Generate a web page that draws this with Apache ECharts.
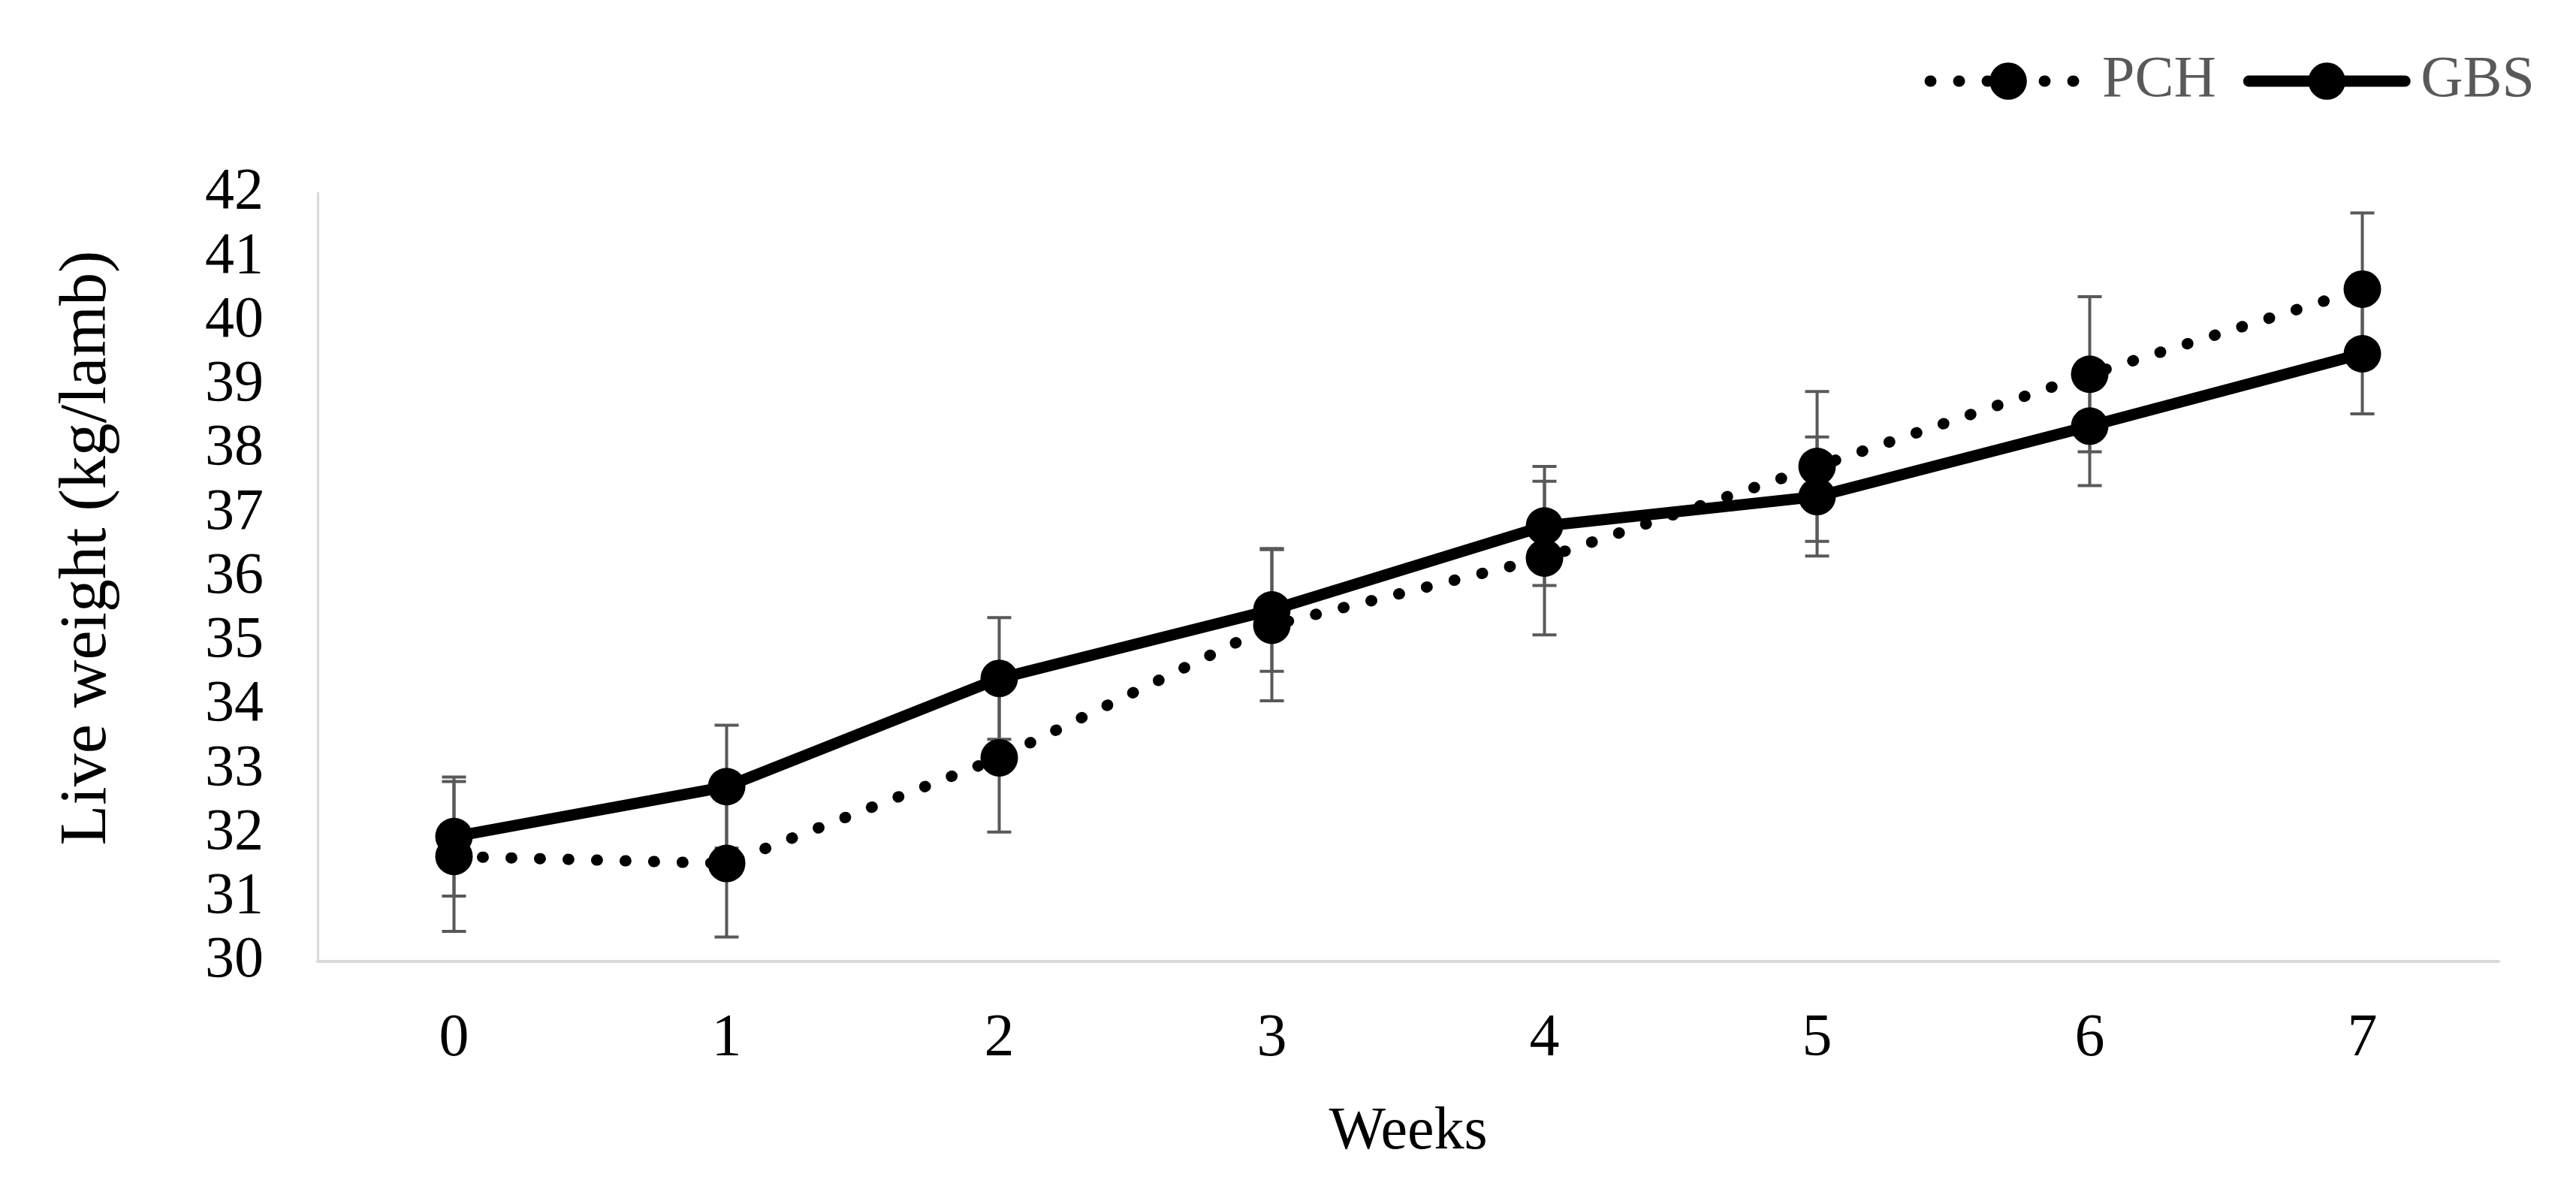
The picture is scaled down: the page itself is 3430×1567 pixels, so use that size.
<!DOCTYPE html>
<html><head><meta charset="utf-8">
<script src="https://cdn.jsdelivr.net/npm/echarts@6/dist/echarts.min.js"></script>
<style>html,body{margin:0;padding:0;background:#fff}#c{width:3430px;height:1567px}</style>
</head><body><div id="c"></div>
<script>
const weeks = ['0', '1', '2', '3', '4', '5', '6', '7'];
const pchMean = [31.64, 31.53, 33.18, 35.25, 36.30, 37.73, 39.17, 40.50];
const pchErr  = [1.17, 1.15, 1.16, 1.18, 1.20, 1.17, 1.21, 1.19];
const gbsMean = [31.95, 32.73, 34.42, 35.49, 36.80, 37.26, 38.36, 39.49];
const gbsErr  = [0.93, 0.96, 0.95, 0.96, 0.93, 0.93, 0.93, 0.94];
const yMin = 30, yMax = 42, yStep = 1;

const FONT = 'Liberation Serif';

function errData(mean, err) {
  return mean.map((m, i) => [i, m - err[i], m + err[i]]);
}
function errRender(params, api) {
  const x = api.value(0);
  const lo = api.coord([x, api.value(1)]);
  const hi = api.coord([x, api.value(2)]);
  const w = 16;
  const style = { stroke: '#595959', lineWidth: 4 };
  return { type: 'group', children: [
    { type: 'line', shape: { x1: lo[0], y1: lo[1], x2: hi[0], y2: hi[1] }, style },
    { type: 'line', shape: { x1: lo[0] - w, y1: lo[1], x2: lo[0] + w, y2: lo[1] }, style },
    { type: 'line', shape: { x1: hi[0] - w, y1: hi[1], x2: hi[0] + w, y2: hi[1] }, style }
  ]};
}

const chart = echarts.init(document.getElementById('c'));
chart.setOption({
  animation: false,
  backgroundColor: '#fff',
  textStyle: { fontFamily: FONT },
  legend: {
    data: ['PCH', 'GBS'],
    right: 50, top: 64,
    itemWidth: 208, itemHeight: 62, itemGap: 36,
    lineStyle: { width: 15 },
    textStyle: { fontFamily: FONT, fontSize: 78, color: '#595959', padding: [0, 0, 0, 16] }
  },
  grid: { left: 423, right: 103, top: 257, bottom: 287 },
  xAxis: {
    type: 'category', data: weeks, boundaryGap: true,
    name: 'Weeks', nameLocation: 'middle', nameGap: 188,
    nameTextStyle: { fontFamily: FONT, fontSize: 80, color: '#000' },
    axisLine: { lineStyle: { color: '#d9d9d9', width: 4 } },
    axisTick: { show: false },
    axisLabel: { fontFamily: FONT, fontSize: 80, color: '#000', margin: 64 }
  },
  yAxis: {
    type: 'value', min: yMin, max: yMax, interval: yStep,
    name: 'Live weight (kg/lamb)', nameLocation: 'middle', nameGap: 262,
    nameTextStyle: { fontFamily: FONT, fontSize: 88, color: '#000', padding: [0, 0, 0, 78] },
    axisLine: { show: true, lineStyle: { color: '#d9d9d9', width: 3 } },
    axisTick: { show: false },
    splitLine: { show: false },
    axisLabel: { fontFamily: FONT, fontSize: 78, color: '#000', margin: 72 }
  },
  series: [
    { type: 'custom', name: 'PCH err', renderItem: errRender, data: errData(pchMean, pchErr),
      encode: { x: 0, y: [1, 2] }, z: 1, silent: true },
    { type: 'custom', name: 'GBS err', renderItem: errRender, data: errData(gbsMean, gbsErr),
      encode: { x: 0, y: [1, 2] }, z: 1, silent: true },
    { type: 'line', name: 'PCH', data: pchMean, symbol: 'circle', symbolSize: 50, z: 3,
      itemStyle: { color: '#000' },
      lineStyle: { color: '#000', width: 15, type: [1, 37], cap: 'round' } },
    { type: 'line', name: 'GBS', data: gbsMean, symbol: 'circle', symbolSize: 50, z: 4,
      itemStyle: { color: '#000' },
      lineStyle: { color: '#000', width: 15, type: 'solid', cap: 'round' } }
  ]
});
</script>
</body></html>
